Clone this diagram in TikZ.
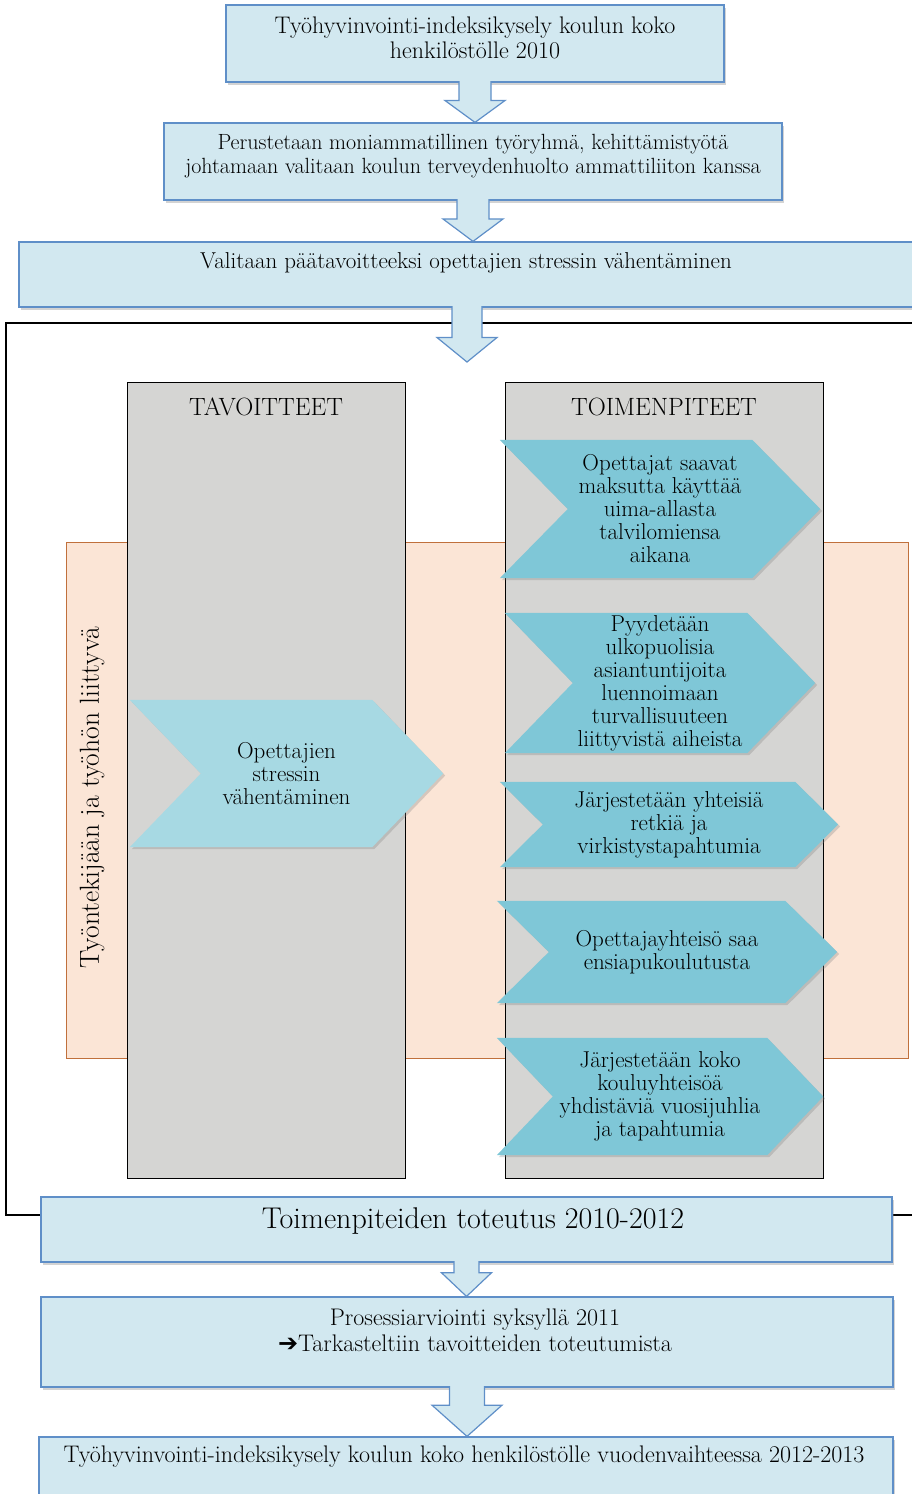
\documentclass[tikz,border=0pt]{standalone}
\usepackage{fontspec}
\usepackage{tikz}
\usetikzlibrary{positioning,calc,shadows}
\newfontfamily\symfont{DejaVu Sans}
\definecolor{boxfill}{HTML}{D2E8F0}
\definecolor{boxline}{HTML}{5F8FC8}
\definecolor{chevdark}{HTML}{7FC7D7}
\definecolor{chevlight}{HTML}{A7D9E3}
\definecolor{colgray}{HTML}{D5D5D3}
\definecolor{bandfill}{HTML}{FBE5D6}
\definecolor{bandline}{HTML}{C0703C}
\pgfdeclarelayer{bg}
\pgfdeclarelayer{mid}
\pgfsetlayers{bg,mid,main}
\tikzset{box/.style={draw=boxline,line width=1.2pt,fill=boxfill,inner sep=0pt,
           drop shadow={shadow xshift=1.5pt,shadow yshift=-3pt,opacity=.35}},
         txt/.style={align=center,inner sep=0pt},
         column/.style={draw=black,line width=1pt,fill=colgray,inner sep=0pt},
         chevtext/.style={align=center,inner sep=0pt,font=\fontsize{23}{23}\selectfont},
         barrow/.style={draw=boxline,line width=1.2pt,fill=boxfill,line join=miter}}
% block arrow: start, end, stem half width, head half width, where the head starts
\newcommand{\blockarrow}[5]{%
  \coordinate (s) at (#1);
  \coordinate (e) at (#1 |- #2);
  \coordinate (m) at ($(s)!#5!(e)$);
  \draw[barrow] ($(s)+(-#3,-1.5)$) -- ($(m)+(-#3,0)$) -- ($(m)+(-#4,0)$) -- (e)
    -- ($(m)+(#4,0)$) -- ($(m)+(#3,0)$) -- ($(s)+(#3,-1.5)$);}
% chevron behind a node: node, point depth, colour
\newcommand{\chevfill}[3]{%
  \begin{pgfonlayer}{mid}
    \fill[#3,drop shadow={shadow xshift=2pt,shadow yshift=-2pt,opacity=.3}]
      (#1.north west) -- ($(#1.north east)+(-#2,0)$) -- (#1.east)
      -- ($(#1.south east)+(-#2,0)$) -- (#1.south west) -- ($(#1.west)+(#2,0)$) -- cycle;
  \end{pgfonlayer}}

\begin{document}
\begin{tikzpicture}[x=1pt,y=-1pt]
\useasboundingbox (0,0) rectangle (911,1494);
% frame, band and the two columns
\begin{pgfonlayer}{bg}
\draw[line width=1.3pt] (6,323) rectangle (930,1215);
\fill[bandfill,draw=bandline,line width=1pt] (66,542) rectangle (908,1058);
\node[column,minimum width=278pt,minimum height=796pt] (goals) at (266,780) {};
\node[column,minimum width=318pt,minimum height=796pt] (actions) at (664,780) {};
\end{pgfonlayer}
\node[txt,font=\fontsize{25}{28}\selectfont,below=16pt of goals.north] (goalhead) {TAVOITTEET};
\node[txt,font=\fontsize{25}{28}\selectfont,below=16pt of actions.north] (acthead) {TOIMENPITEET};
\node[txt,rotate=90,font=\fontsize{27.5}{30}\selectfont] (side) at (92,798) {Työntekijään ja työhön liittyvä};

% chevrons
\node[chevtext,minimum width=313pt,minimum height=147pt] (goal) at (286.5,773.5) {Opettajien\\stressin\\vähentäminen};
\chevfill{goal}{71}{chevlight}
\node[chevtext,minimum width=320pt,minimum height=138pt] (swim) at (660,509) {Opettajat saavat\\maksutta käyttää\\uima-allasta\\talvilomiensa\\aikana};
\chevfill{swim}{68}{chevdark}
\node[chevtext,minimum width=310pt,minimum height=140pt] (lecture) at (660,683) {Pyydetään\\ulkopuolisia\\asiantuntijoita\\luennoimaan\\turvallisuuteen\\liittyvistä aiheista};
\chevfill{lecture}{68}{chevdark}
\node[chevtext,minimum width=338pt,minimum height=85pt] (trips) at (669,824.5) {Järjestetään yhteisiä\\retkiä ja\\virkistystapahtumia};
\chevfill{trips}{43}{chevdark}
\node[chevtext,minimum width=340pt,minimum height=102pt] (firstaid) at (667,952) {Opettajayhteisö saa\\ensiapukoulutusta};
\chevfill{firstaid}{52}{chevdark}
\node[chevtext,minimum width=326pt,minimum height=117pt] (party) at (660,1096.5) {Järjestetään koko\\kouluyhteisöä\\yhdistäviä vuosijuhlia\\ja tapahtumia};
\chevfill{party}{56}{chevdark}

% process boxes
\node[box,minimum width=498pt,minimum height=77pt] (survey) at (475,43.5) {};
\node[txt,font=\fontsize{24}{25}\selectfont] (surveytxt) at (475,37.5) {Työhyvinvointi-indeksikysely koulun koko\\henkilöstölle 2010};
\node[box,minimum width=618pt,minimum height=77pt] (group) at (473,161.5) {};
\node[txt,font=\fontsize{22}{24}\selectfont] (grouptxt) at (473,156) {Perustetaan moniammatillinen työryhmä, kehittämistyötä\\johtamaan valitaan koulun terveydenhuolto ammattiliiton kanssa};
\node[box,minimum width=896pt,minimum height=65pt] (aim) at (467,274.5) {};
\node[txt,font=\fontsize{23}{24}\selectfont] (aimtxt) at (466,263) {Valitaan päätavoitteeksi opettajien stressin vähentäminen};
\coordinate (entry) at (467,362);
\node[box,minimum width=851pt,minimum height=65pt] (impl) at (466.5,1229.5) {};
\node[txt,font=\fontsize{30}{32}\selectfont] (impltxt) at (473,1221) {Toimenpiteiden toteutus 2010-2012};
\node[box,minimum width=852pt,minimum height=90pt] (eval) at (467,1342) {};
\node[txt,font=\fontsize{24}{26}\selectfont] (evaltxt) at (475,1330) {Prosessiarviointi syksyllä 2011\\{\symfont ➔}Tarkasteltiin tavoitteiden toteutumista};
\node[box,minimum width=854pt,minimum height=73pt] (resurvey) at (466,1473.5) {};
\node[txt,font=\fontsize{24}{26}\selectfont] (resurveytxt) at (464,1457) {Työhyvinvointi-indeksikysely koulun koko henkilöstölle vuodenvaihteessa 2012-2013};

% arrows between the boxes
\blockarrow{survey.south}{group.north}{16}{30}{0.45}
\blockarrow{group.south}{aim.north}{16}{30}{0.45}
\blockarrow{aim.south}{entry}{15}{30}{0.55}
\blockarrow{impl.south}{eval.north}{12.5}{25}{0.3}
\blockarrow{eval.south}{resurvey.north}{17.5}{35}{0.36}
\end{tikzpicture}
\end{document}
